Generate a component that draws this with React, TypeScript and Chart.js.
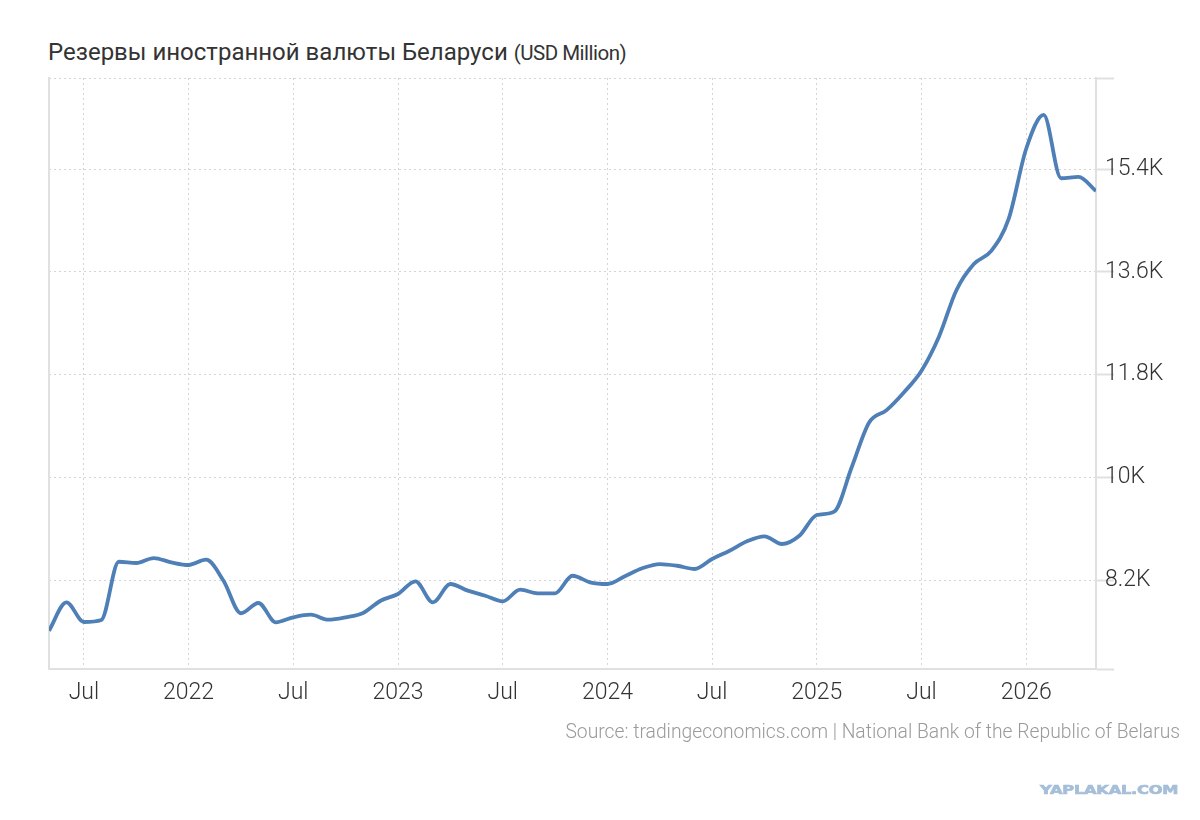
import React, { useEffect, useRef } from "react";
import { Chart, registerables } from "chart.js";

Chart.register(...registerables);

// Monthly observations (YYYY-MM)
const months: string[] = [
  "2021-05", "2021-06", "2021-07", "2021-08", "2021-09", "2021-10", "2021-11", "2021-12",
  "2022-01", "2022-02", "2022-03", "2022-04", "2022-05", "2022-06", "2022-07", "2022-08",
  "2022-09", "2022-10", "2022-11", "2022-12", "2023-01", "2023-02", "2023-03", "2023-04",
  "2023-05", "2023-06", "2023-07", "2023-08", "2023-09", "2023-10", "2023-11", "2023-12",
  "2024-01", "2024-02", "2024-03", "2024-04", "2024-05", "2024-06", "2024-07", "2024-08",
  "2024-09", "2024-10", "2024-11", "2024-12", "2025-01", "2025-02", "2025-03", "2025-04",
  "2025-05", "2025-06", "2025-07", "2025-08", "2025-09", "2025-10", "2025-11", "2025-12",
  "2026-01", "2026-02", "2026-03", "2026-04", "2026-05",
];

// Reserves, USD million
const reserves: number[] = [
  7312, 7809, 7464, 7500, 8520, 8498, 8585, 8510,
  8463, 8556, 8188, 7617, 7797, 7459, 7546, 7592,
  7505, 7546, 7622, 7837, 7955, 8177, 7809, 8130,
  8013, 7925, 7827, 8030, 7967, 7967, 8275, 8160,
  8130, 8265, 8405, 8480, 8450, 8393, 8568, 8713,
  8878, 8966, 8831, 8976, 9339, 9400, 10176, 10960,
  11178, 11492, 11869, 12465, 13280, 13738, 13970, 14535,
  15760, 16352, 15243, 15268, 15018,
];

const xTickMonths: string[] = [
  "2021-07", "2022-01", "2022-07", "2023-01", "2023-07",
  "2024-01", "2024-07", "2025-01", "2025-07", "2026-01",
];
const xTickLabels: string[] = ["Jul", "2022", "Jul", "2023", "Jul", "2024", "Jul", "2025", "Jul", "2026"];

const yTickValues: number[] = [8200, 10000, 11800, 13600, 15400];
const yTickLabels: string[] = ["8.2K", "10K", "11.8K", "13.6K", "15.4K"];

const Y_MIN = 6640;
const Y_MAX = 17000;

const monthIndex = (s: string): number => {
  const [y, m] = s.split("-").map(Number);
  return (y - 2021) * 12 + (m - 1);
};

const GRID = "#d4d4d4";
const AXIS = "#e0e0e0";
const TEXT = "#333333";

export default function App() {
  const canvasRef = useRef<HTMLCanvasElement | null>(null);

  useEffect(() => {
    const canvas = canvasRef.current;
    if (!canvas) return;
    const xs = months.map(monthIndex);
    const data = xs.map((x, i) => ({ x, y: reserves[i] }));
    const xTicks = xTickMonths.map(monthIndex);

    const chart = new Chart(canvas, {
      type: "line",
      data: {
        datasets: [
          {
            data,
            borderColor: "#4e7fb6",
            borderWidth: 3.8,
            pointRadius: 0,
            cubicInterpolationMode: "monotone",
            fill: false,
          },
        ],
      },
      options: {
        animation: false,
        responsive: false,
        devicePixelRatio: window.devicePixelRatio || 1,
        layout: { padding: { left: 49, top: 78, right: 0, bottom: 0 } },
        plugins: {
          legend: { display: false },
          tooltip: { enabled: false },
          title: { display: false },
        },
        scales: {
          x: {
            type: "linear",
            min: xs[0],
            max: xs[xs.length - 1],
            afterBuildTicks: (scale: any) => {
              scale.ticks = xTicks.map((v) => ({ value: v }));
            },
            afterFit: (scale: any) => {
              scale.height = 151;
            },
            ticks: {
              autoSkip: false,
              maxRotation: 0,
              padding: 10,
              color: TEXT,
              font: { family: "Roboto", size: 23, weight: "300" },
              callback: (v: any) => {
                const i = xTicks.indexOf(Number(v));
                return i >= 0 ? xTickLabels[i] : "";
              },
            },
            grid: {
              color: GRID,
              lineWidth: 1,
              drawTicks: false,
            },
            border: { display: true, color: AXIS, width: 2, dash: [2, 3] },
          },
          y: {
            type: "linear",
            position: "right",
            min: Y_MIN,
            max: Y_MAX,
            afterBuildTicks: (scale: any) => {
              scale.ticks = [Y_MIN, ...yTickValues, Y_MAX].map((v) => ({ value: v }));
            },
            afterFit: (scale: any) => {
              scale.width = 104;
            },
            ticks: {
              padding: -9,
              color: TEXT,
              font: { family: "Roboto", size: 23, weight: "300" },
              callback: (v: any) => {
                const i = yTickValues.indexOf(Number(v));
                return i >= 0 ? yTickLabels[i] : "";
              },
            },
            grid: {
              color: (ctx: any) => (ctx.tick && ctx.tick.value === Y_MIN ? "rgba(0,0,0,0)" : GRID),
              lineWidth: 1,
              drawTicks: true,
              tickLength: 18,
              tickColor: AXIS,
              tickWidth: 2,
              tickBorderDash: [],
            },
            border: { display: true, color: AXIS, width: 2, dash: [2, 3] },
          },
          yLeft: {
            type: "linear",
            position: "left",
            min: Y_MIN,
            max: Y_MAX,
            afterFit: (scale: any) => {
              scale.width = 0;
            },
            ticks: { display: false },
            grid: { display: false, drawOnChartArea: false, drawTicks: false },
            border: { display: true, color: AXIS, width: 2 },
          },
        },
      } as any,
    });
    return () => chart.destroy();
  }, []);

  return (
    <div
      style={{
        position: "absolute",
        left: 0,
        top: 0,
        width: 1200,
        height: 820,
        background: "#ffffff",
        fontFamily: "Roboto, sans-serif",
        overflow: "hidden",
      }}
    >
      <div
        style={{
          position: "absolute",
          left: 48,
          top: 37,
          whiteSpace: "nowrap",
          color: "#333333",
          fontSize: 24,
          lineHeight: "30px",
        }}
      >
        Резервы иностранной валюты Беларуси{" "}
        <span style={{ fontSize: 20.5, letterSpacing: -0.5 }}>(USD Million)</span>
      </div>
      <canvas
        ref={canvasRef}
        width={1200}
        height={820}
        style={{ position: "absolute", left: 0, top: 0, width: 1200, height: 820 }}
      />
      <div
        style={{
          position: "absolute",
          right: 20,
          top: 719,
          whiteSpace: "nowrap",
          color: "#9a9a9a",
          fontSize: 19.3,
          fontWeight: 300,
          lineHeight: "26px",
        }}
      >
        Source: tradingeconomics.com | National Bank of the Republic of Belarus
      </div>
      <div
        style={{
          position: "absolute",
          left: 1040,
          top: 782,
          whiteSpace: "nowrap",
          color: "#a6bfd8",
          fontFamily: "DejaVu Sans",
          fontSize: 12.5,
          fontWeight: 900,
          lineHeight: "16px",
          letterSpacing: -0.2,
          transform: "scaleX(1.3)",
          transformOrigin: "left center",
          WebkitTextStroke: "0.7px #a6bfd8",
        }}
      >
        YAPLAKAL.COM
      </div>
    </div>
  );
}
